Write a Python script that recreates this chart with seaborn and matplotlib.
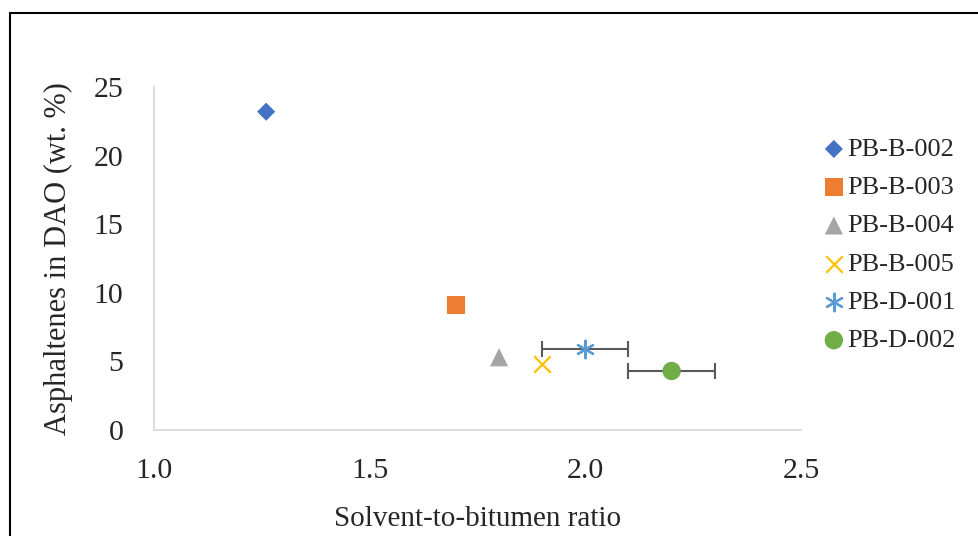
import numpy as np
import pandas as pd
import matplotlib
matplotlib.use('Agg')
import matplotlib.pyplot as plt
import seaborn as sns
from matplotlib.patches import Rectangle

# ── Data ──────────────────────────────────────────────────────────────────────
samples = ['PB-B-002', 'PB-B-003', 'PB-B-004', 'PB-B-005', 'PB-D-001', 'PB-D-002']
ratio = [1.26, 1.70, 1.80, 1.90, 2.00, 2.20]
asphaltenes = [23.2, 9.1, 5.3, 4.8, 5.9, 4.3]
ratio_err = [0, 0, 0, 0, 0.1, 0.1]

colors = ['#4472C4', '#ED7D31', '#A5A5A5', '#FFC000', '#5B9BD5', '#70AD47']
markers = ['D', 's', '^', 'x', (6, 2, 0), 'o']
sizes = [85, 170, 170, 140, 160, 175]

df = pd.DataFrame({'sample': samples, 'ratio': ratio,
                   'asph': asphaltenes, 'err': ratio_err})

# ── Plot ──────────────────────────────────────────────────────────────────────
sns.set_style('white')
plt.rcParams['font.family'] = ['Liberation Serif', 'DejaVu Serif']

fig = plt.figure(figsize=(9.79, 5.36), dpi=100)
ax = fig.add_axes([154 / 979, 1 - 430 / 536, (801 - 154) / 979, (430 - 87) / 536])

# error bars (horizontal) for the D-series
for i, row in df.iterrows():
    if row['err'] > 0:
        ax.errorbar(row['ratio'], row['asph'], xerr=row['err'], fmt='none',
                    ecolor='#595959', elinewidth=1.5, capsize=6, capthick=1.5,
                    zorder=2)

for i, row in df.iterrows():
    filled = markers[i] not in ('x', (6, 2, 0))
    sns.scatterplot(x=[row['ratio']], y=[row['asph']], ax=ax,
                    marker=markers[i], s=sizes[i], color=colors[i],
                    linewidth=0 if filled else 1.6,
                    edgecolor=colors[i] if not filled else 'none',
                    label=row['sample'], zorder=3)

ax.set_xlim(1.0, 2.5)
ax.set_ylim(0, 25)
ax.set_xticks([1.0, 1.5, 2.0, 2.5])
ax.set_xticklabels(['1.0', '1.5', '2.0', '2.5'])
ax.set_yticks([0, 5, 10, 15, 20, 25])
ax.tick_params(axis='both', length=0, labelsize=21.5)
ax.tick_params(axis='x', pad=20)
ax.tick_params(axis='y', pad=22)

for side in ['top', 'right']:
    ax.spines[side].set_visible(False)
for side in ['left', 'bottom']:
    ax.spines[side].set_color('#d9d9d9')
    ax.spines[side].set_linewidth(1.3)

ax.set_xlabel('Solvent-to-bitumen ratio', fontsize=21, labelpad=16)
ax.set_ylabel('Asphaltenes in DAO (wt. %)', fontsize=22, labelpad=15)

leg = ax.legend(loc='center left', bbox_to_anchor=(1.01, 0.54), frameon=False,
                fontsize=19, handletextpad=-0.1, labelspacing=0.56,
                handlelength=1.2, borderaxespad=0)

# outer chart border (cropped at right/bottom as in the reference)
fig.patches.append(Rectangle((9.5 / 979, -0.05), 1.2, 1 - 13.5 / 536 + 0.05,
                             transform=fig.transFigure, fill=False,
                             edgecolor='black', linewidth=1.5))

plt.savefig('out.png', dpi=100)
plt.close()
